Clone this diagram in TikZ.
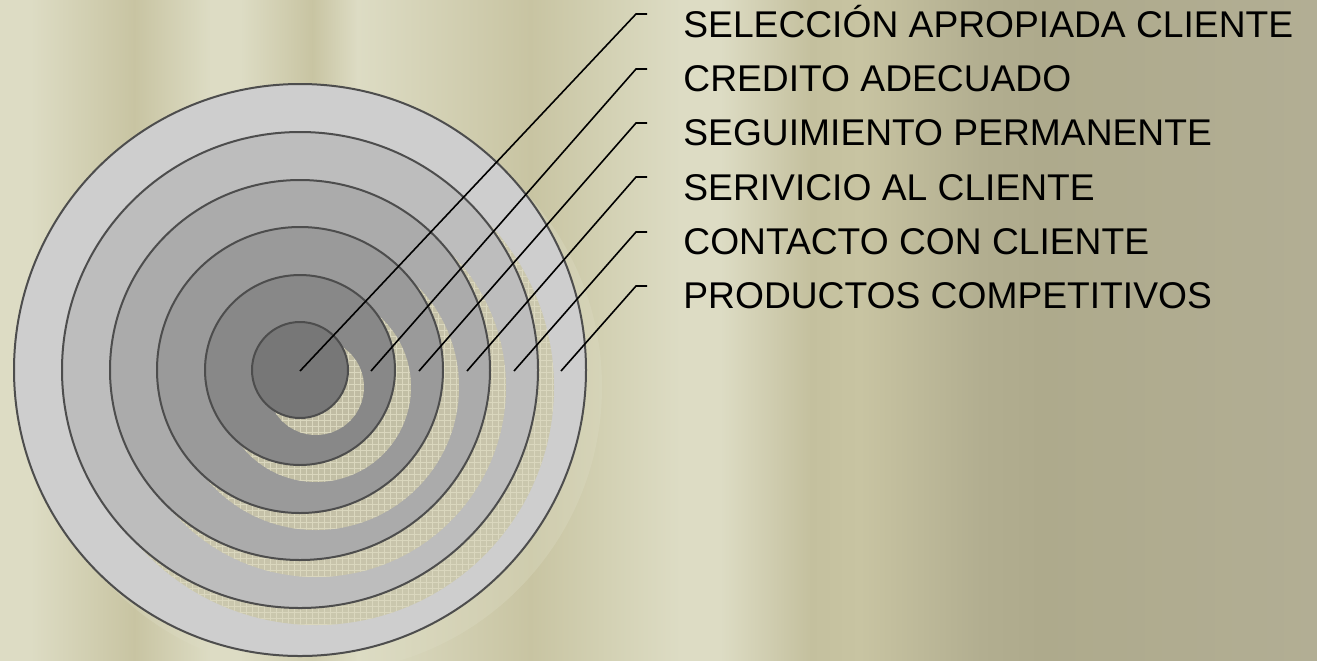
\documentclass[tikz,border=0pt]{standalone}
\usepackage{fontspec}
\setmainfont{Liberation Sans}
\usepackage{tikz}
\usetikzlibrary{patterns}

\definecolor{bgL}{HTML}{DDDCC4}
\definecolor{bgM}{HTML}{D2D0B2}
\definecolor{bgD}{HTML}{C8C4A2}
\definecolor{bgE}{HTML}{C4C09E}
\definecolor{bgF}{HTML}{B2AE90}
\definecolor{bgG}{HTML}{AEAA8C}
\definecolor{bgH}{HTML}{B2AE94}
\definecolor{ringA}{HTML}{777777}
\definecolor{ringB}{HTML}{888888}
\definecolor{ringC}{HTML}{9A9A9A}
\definecolor{ringD}{HTML}{ABABAB}
\definecolor{ringE}{HTML}{BDBDBD}
\definecolor{ringF}{HTML}{CECECE}
\definecolor{ringline}{HTML}{4D4D4D}
\definecolor{shadowc}{HTML}{CAC6A8}
\definecolor{gridc}{HTML}{DAD7BE}

\tikzset{
  ring/.style={shape=circle, draw=ringline, line width=1pt, inner sep=0pt},
  shadowring/.style={shape=circle, inner sep=0pt, fill=shadowc, fill opacity=0.85,
    postaction={pattern=grid, pattern color=gridc}},
  lbl/.style={anchor=base west, inner sep=0pt, font=\fontsize{18.6}{22}\selectfont},
  leader/.style={line width=0.8pt, black}
}

\begin{document}
\begin{tikzpicture}[x=0.5pt, y=-0.5pt]
	\useasboundingbox (0,0) rectangle (1317,660);
	\clip (0,0) rectangle (1317,660);

	% background stripes
	\foreach \xa/\ca/\xb/\cb in {0/bgL/30/bgL, 30/bgL/134/bgD, 134/bgD/210/bgL, 210/bgL/240/bgL,
	    240/bgL/312/bgD, 312/bgD/357/bgL, 357/bgL/530/bgD, 530/bgD/600/bgM, 600/bgM/680/bgL,
	    680/bgL/720/bgL, 720/bgL/810/bgE, 810/bgE/860/bgD, 860/bgD/980/bgF, 980/bgF/1040/bgG,
	    1040/bgG/1317/bgH}
	  \shade[left color=\ca, right color=\cb] (\xa,0) rectangle (\xb+1,660);

	% outer shadow, faint
	\node[shape=circle, inner sep=0pt, fill=bgL, fill opacity=0.35, minimum size=286pt] (s6) at (316,387) {};

	% rings, largest first, each inner one with its shadow
	\node[ring, fill=ringF, minimum size=286pt] (c6) at (300,370) {};
	\foreach \i/\r/\c in {5/238/ringE, 4/190/ringD, 3/143/ringC, 2/95/ringB, 1/48/ringA} {
	  \node[shadowring, minimum size=\r pt] (s\i) at (316,387) {};
	  \node[ring, fill=\c, minimum size=\r pt] (c\i) at (300,370) {};
	}

	% labels
	\node[lbl] (l1) at (683,37)  {SELECCIÓN APROPIADA CLIENTE};
	\node[lbl] (l2) at (683,91)  {CREDITO ADECUADO};
	\node[lbl] (l3) at (683,145) {SEGUIMIENTO PERMANENTE};
	\node[lbl] (l4) at (683,200) {SERIVICIO AL CLIENTE};
	\node[lbl] (l5) at (683,254) {CONTACTO CON CLIENTE};
	\node[lbl] (l6) at (683,308) {PRODUCTOS COMPETITIVOS};

	% leader points
	\coordinate (p1) at (300,371);
	\coordinate (p2) at (371,371);
	\coordinate (p3) at (419,371);
	\coordinate (p4) at (467,371);
	\coordinate (p5) at (514,371);
	\coordinate (p6) at (561,371);

	\foreach \i/\y in {1/14, 2/69, 3/123, 4/177, 5/232, 6/286} {
	  \coordinate (k\i) at (636,\y);
	  \coordinate (e\i) at (647,\y);
	  \draw[leader] (p\i) -- (k\i) -- (e\i);
	}
\end{tikzpicture}
\end{document}
